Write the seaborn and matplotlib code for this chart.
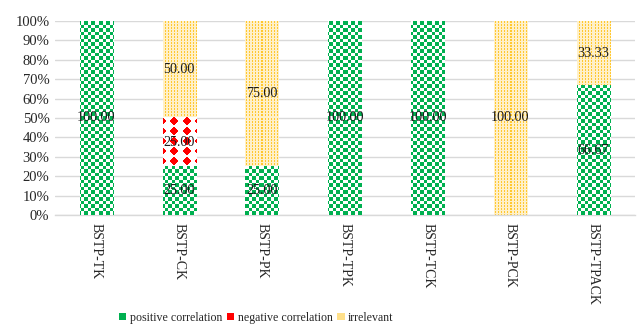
import numpy as np
import pandas as pd
import matplotlib
matplotlib.use("Agg")
import matplotlib.pyplot as plt
import seaborn as sns
from matplotlib.patches import Patch

# Share of each relation type per knowledge pair (percent)
categories = ["BSTP-TK", "BSTP-CK", "BSTP-PK", "BSTP-TPK", "BSTP-TCK", "BSTP-PCK", "BSTP-TPACK"]
positive = [100.00, 25.00, 25.00, 100.00, 100.00, 0.00, 66.67]
negative = [0.00, 25.00, 0.00, 0.00, 0.00, 0.00, 0.00]
irrelevant = [0.00, 50.00, 75.00, 0.00, 0.00, 100.00, 33.33]
series_names = ["positive correlation", "negative correlation", "irrelevant"]
y_ticks = [0, 10, 20, 30, 40, 50, 60, 70, 80, 90, 100]
y_tick_labels = [f"{v}%" for v in y_ticks]

GREEN = np.array([0x00, 0xB0, 0x50]) / 255
RED = np.array([0xFF, 0x00, 0x00]) / 255
YELLOW = np.array([0xFF, 0xC8, 0x30]) / 255
PALE = np.array([0xFF, 0xF0, 0xC8]) / 255

sns.set_theme(style="white")
plt.rcParams["font.family"] = ["Liberation Serif", "DejaVu Serif"]

df = pd.DataFrame({
    "category": categories,
    "positive": positive,
    "negative": negative,
    "irrelevant": irrelevant,
})
df["top_neg"] = df["positive"] + df["negative"]
df["top_irr"] = df["top_neg"] + df["irrelevant"]

fig = plt.figure(figsize=(6.41, 3.27), dpi=100)
ax = fig.add_axes([0.0858, 0.3425, 0.9042, 0.5935])

# Stacked bars: draw cumulative heights back to front
layers = [("top_irr", "irrelevant"), ("top_neg", "negative"), ("positive", "positive")]
layer_patches = {}
for col, kind in layers:
    n0 = len(ax.patches)
    sns.barplot(data=df, x="category", y=col, order=categories, color="white",
                width=0.4, errorbar=None, ax=ax)
    layer_patches[kind] = ax.patches[n0:]

ax.set_xlim(-0.5, len(categories) - 0.5)
ax.set_ylim(0, 100)
ax.set_autoscale_on(False)


def texture(kind, jj, ii):
    img = np.ones(jj.shape + (3,))
    if kind == "positive":
        mask = (((jj * 2) // 7) + ((ii * 2) // 7)) % 2 == 0
        img[mask] = GREEN
    elif kind == "negative":
        dx = (jj % 12) - 5.5
        dy = (ii % 10) - 4.5
        mask = np.abs(dx) / 4.6 + np.abs(dy) / 4.2 <= 1.0
        img[mask] = RED
    else:
        img[:] = PALE
        mask = (jj % 3 == 0) & (ii % 3 != 2)
        img[mask] = YELLOW
    return img


def fill_texture(patch, kind, z):
    x0, y0 = patch.get_x(), patch.get_y()
    w, h = patch.get_width(), patch.get_height()
    if h <= 0:
        return
    px0, py0 = ax.transData.transform((x0, y0))
    px1, py1 = ax.transData.transform((x0 + w, y0 + h))
    ncol = max(1, int(round(px1 - px0)))
    nrow = max(1, int(round(py1 - py0)))
    jj, ii = np.meshgrid(np.arange(ncol) + int(round(px0)),
                         np.arange(nrow) + int(round(py0)))
    img = texture(kind, jj, ii)
    ax.imshow(img, extent=(x0, x0 + w, y0, y0 + h), origin="lower",
              aspect="auto", interpolation="nearest", zorder=z)
    patch.set_facecolor("none")
    patch.set_edgecolor("none")


for z, (col, kind) in enumerate(layers):
    for p in layer_patches[kind]:
        fill_texture(p, kind, 2 + z)

# Segment value labels
for i in range(len(categories)):
    bottom = 0.0
    for vals in (positive, negative, irrelevant):
        v = vals[i]
        if v > 0:
            ax.text(i, bottom + v / 2, f"{v:.2f}", ha="center", va="center",
                    fontsize=10.2, color="#1a1a1a", zorder=10)
        bottom += v

ax.set_yticks(y_ticks)
ax.set_yticklabels(y_tick_labels, fontsize=10.5, color="#262626")
ax.set_xticks(range(len(categories)))
ax.set_xticklabels(categories, rotation=-90, fontsize=10, color="#262626",
                   ha="center", va="top")
ax.tick_params(axis="both", length=0, pad=4)
ax.tick_params(axis="x", pad=6)
ax.set_xlabel("")
ax.set_ylabel("")
ax.yaxis.grid(True, color="#D9D9D9", lw=1)
ax.set_axisbelow(True)
for s in ("left", "top", "right"):
    ax.spines[s].set_visible(False)
ax.spines["bottom"].set_color("#D9D9D9")
ax.spines["bottom"].set_linewidth(1)

handles = [Patch(facecolor=GREEN, edgecolor="none"),
           Patch(facecolor=RED, edgecolor="none"),
           Patch(facecolor="#FFE08A", edgecolor="none")]
fig.legend(handles, series_names, loc="center", bbox_to_anchor=(0.40, 0.028),
           ncol=3, frameon=False, handlelength=0.6, handleheight=0.6,
           handletextpad=0.3, columnspacing=0.4, fontsize=8.6,
           labelcolor="#262626")

fig.savefig("out.png", dpi=100)
